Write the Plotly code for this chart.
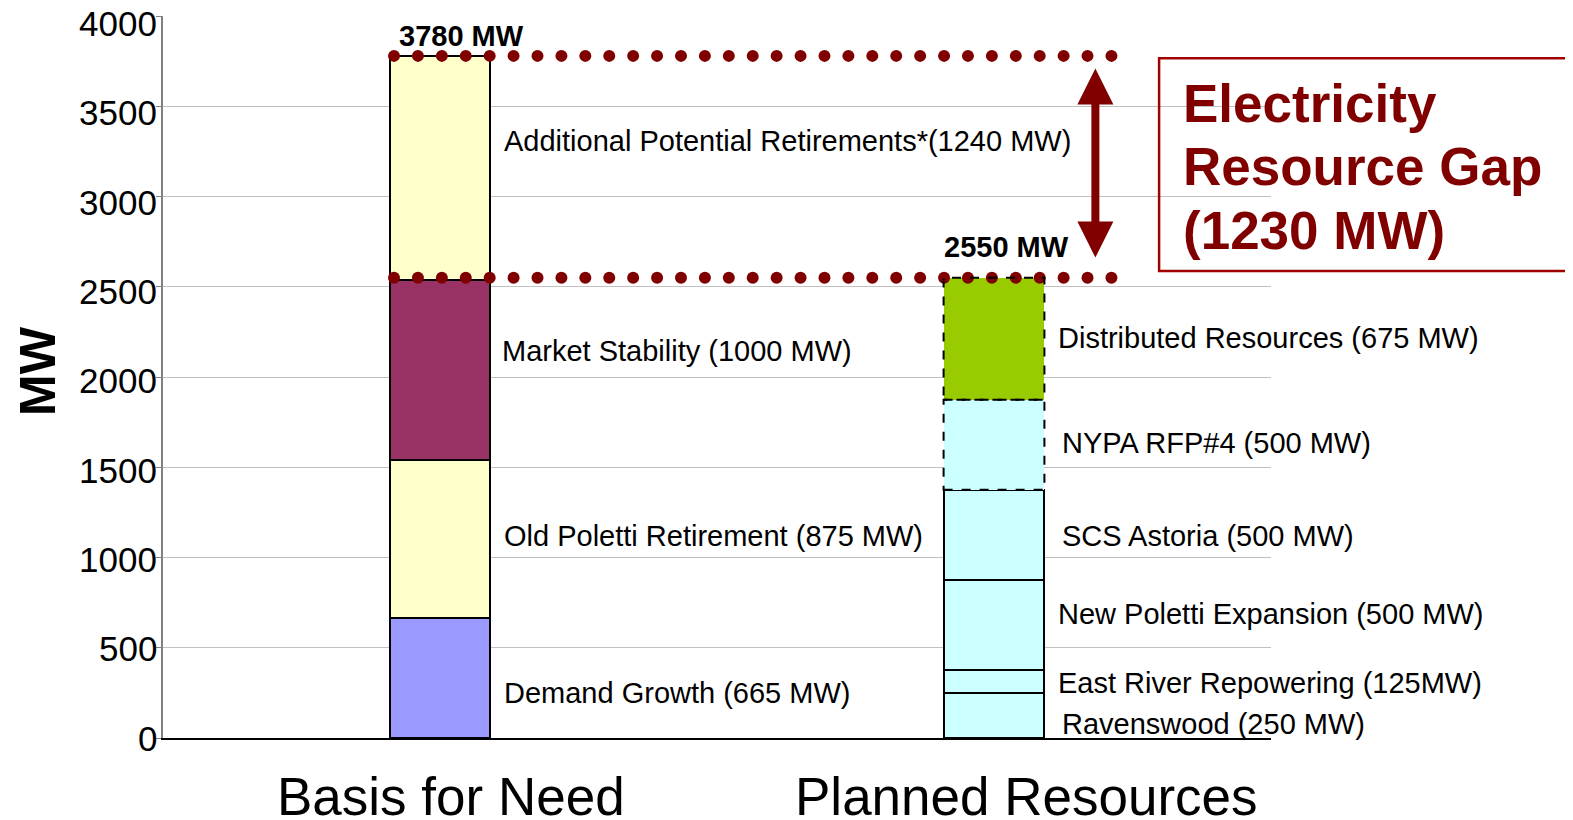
import numpy as np
import plotly.graph_objects as go

# ---------------- data ----------------
categories = ["Basis for Need", "Planned Resources"]

need_names = ["Demand Growth (665 MW)", "Old Poletti Retirement (875 MW)",
              "Market Stability (1000 MW)", "Additional Potential Retirements*(1240 MW)"]
need_mw = [665, 875, 1000, 1240]
need_colors = ["#9999ff", "#ffffcc", "#993366", "#ffffcc"]

planned_names = ["Ravenswood (250 MW)", "East River Repowering (125MW)",
                 "New Poletti Expansion (500 MW)", "SCS Astoria (500 MW)",
                 "NYPA RFP#4 (500 MW)", "Distributed Resources (675 MW)"]
planned_mw = [250, 125, 500, 500, 500, 675]
planned_colors = ["#ccffff", "#ccffff", "#ccffff", "#ccffff", "#ccffff", "#99cc00"]
planned_dashed = [False, False, False, False, True, True]

y_ticks = [0, 500, 1000, 1500, 2000, 2500, 3000, 3500, 4000]
gap_lines = ["Electricity", "Resource Gap", "(1230 MW)"]

# label placement (MW level of each segment's text, and pixel shift right of bar centre)
need_label_y = [252, 1119, 2142, 3310]
need_label_dx = [62, 62, 60, 62]
planned_label_y = [79, 307, 685, 1119, 1637, 2215]
planned_label_dx = [66, 62, 62, 66, 66, 62]
category_dx = [11, 32]

# ---------------- style ----------------
FONT = "Liberation Sans, Arial, sans-serif"
DARK_RED = "#800000"
BAR_W = 0.182
TICK_DRIFT = 7.5  # the original's tick labels sit slightly lower towards the top

need_total = sum(need_mw)
planned_total = sum(planned_mw)

fig = go.Figure()
shapes = []
annotations = []


def add_stack(cat_idx, names, values, colors, dashed, label_y, label_dx):
    base = 0
    for name, v, c, d, ly, dx in zip(names, values, colors, dashed, label_y, label_dx):
        fig.add_trace(go.Bar(
            x=[cat_idx], y=[v], width=BAR_W, name=name,
            marker=dict(color=c, line=dict(color="black", width=0 if d else 2)),
            showlegend=False, hoverinfo="skip"))
        if d:
            shapes.append(dict(type="rect", xref="x", yref="y",
                               x0=cat_idx - BAR_W / 2, x1=cat_idx + BAR_W / 2,
                               y0=base, y1=base + v,
                               line=dict(color="black", width=2, dash="dash")))
        annotations.append(dict(x=cat_idx, y=ly, xref="x", yref="y", text=name,
                                showarrow=False, xanchor="left", yanchor="middle",
                                xshift=dx, font=dict(family=FONT, size=29, color="black")))
        base += v


add_stack(0, need_names, need_mw, need_colors, [False] * 4, need_label_y, need_label_dx)
add_stack(1, planned_names, planned_mw, planned_colors, planned_dashed,
          planned_label_y, planned_label_dx)

# dotted level lines
dot_x = np.linspace(-BAR_W / 2 + 0.008, 1.212, 31)
for level in (need_total, planned_total):
    fig.add_trace(go.Scatter(x=dot_x, y=[level] * len(dot_x), mode="markers",
                             marker=dict(size=12, color=DARK_RED),
                             cliponaxis=False, showlegend=False, hoverinfo="skip"))

# totals
annotations.append(dict(x=0, y=need_total, xref="x", yref="y", text=f"<b>{need_total} MW</b>",
                        showarrow=False, yanchor="bottom", xshift=21, yshift=2,
                        font=dict(family=FONT, size=29, color="black")))
annotations.append(dict(x=1, y=planned_total, xref="x", yref="y", text=f"<b>{planned_total} MW</b>",
                        showarrow=False, yanchor="bottom", xshift=12, yshift=13,
                        font=dict(family=FONT, size=29, color="black")))

# double arrow for the gap
annotations.append(dict(x=1.183, y=need_total - 70, ax=1.183, ay=planned_total + 104,
                        xref="x", yref="y", axref="x", ayref="y", text="",
                        showarrow=True, arrowhead=2, startarrowhead=2, arrowside="end+start",
                        arrowwidth=8, arrowsize=0.9, startarrowsize=0.9, arrowcolor=DARK_RED))

# gap box
shapes.append(dict(type="rect", xref="paper", yref="paper", x0=0.899, x1=1.3,
                   y0=0.6468, y1=0.9416, line=dict(color="#a00000", width=2.5)))
for line, yy in zip(gap_lines, [0.8795, 0.7916, 0.7026]):
    annotations.append(dict(x=0.9188, y=yy, xref="paper", yref="paper", text=f"<b>{line}</b>",
                            showarrow=False, xanchor="left", yanchor="middle",
                            font=dict(family=FONT, size=53, color=DARK_RED)))

# y tick labels
for v in y_ticks:
    annotations.append(dict(x=0, y=v, xref="paper", yref="y", text=str(v),
                            showarrow=False, xanchor="right", yanchor="middle",
                            xshift=-4, yshift=-TICK_DRIFT * v / y_ticks[-1],
                            font=dict(family=FONT, size=35, color="black")))

# category labels
for i, (cat, dx) in enumerate(zip(categories, category_dx)):
    annotations.append(dict(x=i, y=0, xref="x", yref="paper", text=cat,
                            showarrow=False, xanchor="center", yanchor="top",
                            xshift=dx, yshift=-27,
                            font=dict(family=FONT, size=53, color="black")))

# y axis title
annotations.append(dict(x=-0.113, y=0.508, xref="paper", yref="paper", text="<b>MW</b>",
                        showarrow=False, textangle=-90, xanchor="center", yanchor="middle",
                        font=dict(family=FONT, size=50, color="black")))

# the page body adds an 8px margin, so the figure is sized/positioned to compensate
fig.update_layout(
    barmode="stack",
    width=1565, height=812,
    margin=dict(l=155, r=302, t=8, b=82),
    plot_bgcolor="white", paper_bgcolor="white",
    font=dict(family=FONT, color="black"),
    shapes=shapes, annotations=annotations,
    xaxis=dict(range=[-0.5, 1.5], showticklabels=False,
               showline=True, linecolor="black", linewidth=1.5, zeroline=False,
               ticks="", showgrid=False, automargin=False),
    yaxis=dict(range=[0, 4001], tickvals=y_ticks, showticklabels=False,
               showgrid=True, gridcolor="#c0c0c0", gridwidth=1.3,
               zeroline=False, showline=True, linecolor="#808080", linewidth=1.5,
               ticks="outside", ticklen=5, tickcolor="#808080", automargin=False),
)

fig.write_html("out.html")
